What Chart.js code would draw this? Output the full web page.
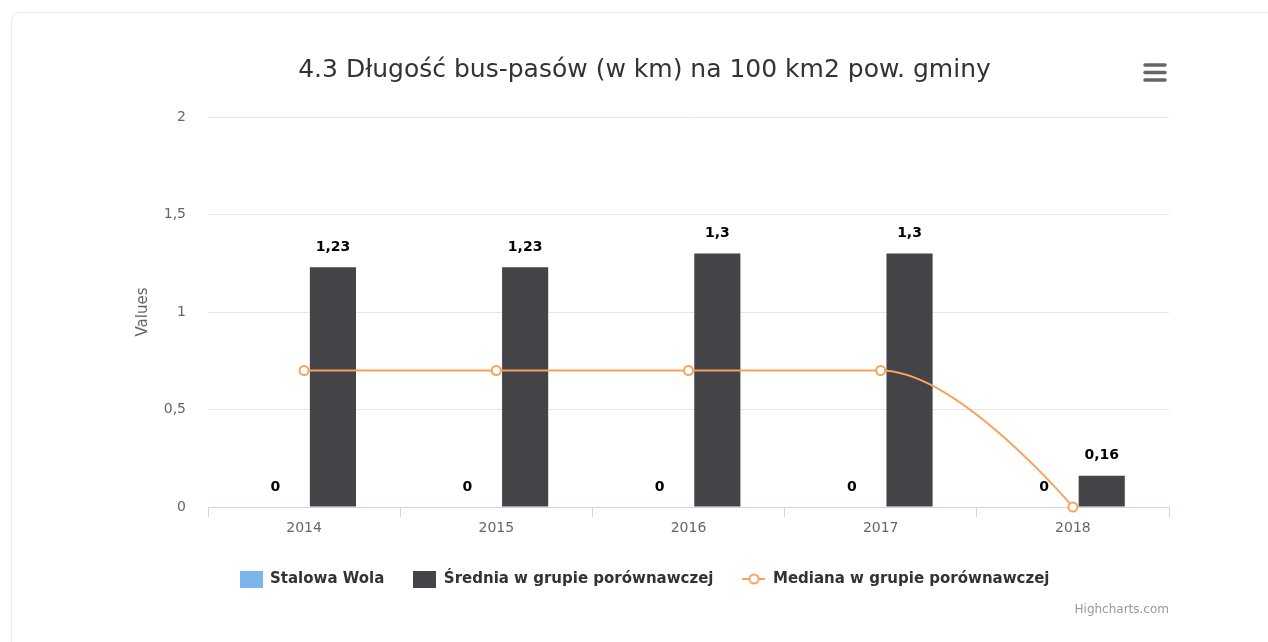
<!DOCTYPE html>
<html><head><meta charset="utf-8">
<script src="https://cdn.jsdelivr.net/npm/chart.js@4"></script>
<style>
html,body{margin:0;padding:0;background:#fff;}
#wrap{position:relative;width:1268px;height:642px;overflow:hidden;}
#card{position:absolute;left:11px;top:12px;width:1300px;height:700px;border:1px solid #ececec;border-radius:9px;box-sizing:border-box;}
canvas{position:absolute;left:0;top:0;}
</style></head><body>
<div id="wrap"><div id="card"></div><canvas id="c" width="1268" height="642"></canvas></div>
<script>
const categories = ['2014', '2015', '2016', '2017', '2018'];
const stalowaWola = [0, 0, 0, 0, 0];
const srednia = [1.23, 1.23, 1.3, 1.3, 0.16];
const mediana = [0.7, 0.7, 0.7, 0.7, 0];
const yTicks = [0, 0.5, 1, 1.5, 2];
const seriesNames = ['Stalowa Wola', 'Średnia w grupie porównawczej', 'Mediana w grupie porównawczej'];
const colors = ['#7cb5ec', '#434348', '#f7a35c'];

const FONT = "'DejaVu Sans', sans-serif";
Chart.defaults.font.family = FONT;
const fmt = v => String(v).replace('.', ',');

function squareSym(color) {
  const c = document.createElement('canvas'); c.width = 23; c.height = 17;
  const x = c.getContext('2d'); x.fillStyle = color; x.fillRect(0, 0, 23, 17); return c;
}
function lineSym(color) {
  const c = document.createElement('canvas'); c.width = 23; c.height = 14;
  const x = c.getContext('2d');
  x.strokeStyle = color; x.lineWidth = 2;
  x.beginPath(); x.moveTo(0, 7); x.lineTo(23, 7); x.stroke();
  x.beginPath(); x.arc(11.5, 7, 4.5, 0, Math.PI * 2); x.fillStyle = '#fff'; x.fill(); x.stroke();
  return c;
}
const legendSyms = [squareSym(colors[0]), squareSym(colors[1]), lineSym(colors[2])];

// Highcharts-style spline control points, computed from the library's own point positions
const hcSpline = {
  id: 'hcSpline',
  beforeDatasetDraw(chart, args) {
    const meta = args.meta;
    if (meta.type !== 'line' || !meta.dataset) return;
    const pts = meta.data;
    const sm = 1.5, den = 2.5;
    pts.forEach((p, i) => {
      const prev = pts[i - 1], next = pts[i + 1];
      let lx = p.x, ly = p.y, rx = p.x, ry = p.y;
      if (prev && next) {
        lx = (sm * p.x + prev.x) / den; ly = (sm * p.y + prev.y) / den;
        rx = (sm * p.x + next.x) / den; ry = (sm * p.y + next.y) / den;
        if (rx !== lx) { const c = ((ry - ly) * (rx - p.x)) / (rx - lx) + p.y - ry; ly += c; ry += c; }
        if (ly > Math.max(prev.y, p.y)) { ly = Math.max(prev.y, p.y); ry = 2 * p.y - ly; }
        else if (ly < Math.min(prev.y, p.y)) { ly = Math.min(prev.y, p.y); ry = 2 * p.y - ly; }
        if (ry > Math.max(next.y, p.y)) { ry = Math.max(next.y, p.y); ly = 2 * p.y - ry; }
        else if (ry < Math.min(next.y, p.y)) { ry = Math.min(next.y, p.y); ly = 2 * p.y - ry; }
      }
      p.cp1x = lx; p.cp1y = ly; p.cp2x = rx; p.cp2y = ry;
    });
    meta.dataset._pointsUpdated = true;
    delete meta.dataset._path;
  }
};

const extras = {
  id: 'extras',
  afterDatasetsDraw(chart) {
    const ctx = chart.ctx;
    ctx.save();
    ctx.font = 'bold 14px ' + FONT;
    ctx.textAlign = 'center'; ctx.textBaseline = 'middle'; ctx.lineJoin = 'round';
    [0, 1].forEach(di => {
      const meta = chart.getDatasetMeta(di);
      meta.data.forEach((el, i) => {
        const txt = fmt(chart.data.datasets[di].data[i]);
        const y = el.y - 20;
        ctx.strokeStyle = '#fff'; ctx.lineWidth = 2; ctx.strokeText(txt, el.x, y);
        ctx.fillStyle = '#000'; ctx.fillText(txt, el.x, y);
      });
    });
    ctx.restore();
  },
  afterDraw(chart) {
    const ctx = chart.ctx;
    ctx.save();
    ctx.strokeStyle = '#666'; ctx.lineWidth = 3.5; ctx.lineCap = 'round';
    [65, 72.5, 80].forEach(y => { ctx.beginPath(); ctx.moveTo(1145, y); ctx.lineTo(1165, y); ctx.stroke(); });
    ctx.font = '12px ' + FONT; ctx.fillStyle = '#999';
    ctx.textAlign = 'right'; ctx.textBaseline = 'middle';
    ctx.fillText('Highcharts.com', 1169, 610);
    ctx.restore();
  }
};

new Chart(document.getElementById('c'), {
  type: 'bar',
  data: {
    labels: categories,
    datasets: [
      { label: seriesNames[0], data: stalowaWola, backgroundColor: colors[0], order: 1,
        categoryPercentage: 0.6, barPercentage: 0.8 },
      { label: seriesNames[1], data: srednia, backgroundColor: colors[1], order: 1,
        categoryPercentage: 0.6, barPercentage: 0.8 },
      { type: 'line', label: seriesNames[2], data: mediana, borderColor: colors[2], borderWidth: 2,
        backgroundColor: '#fff', pointBackgroundColor: '#fff', pointBorderColor: colors[2],
        pointBorderWidth: 2, pointRadius: 4.5, cubicInterpolationMode: 'monotone', clip: false, order: 0 }
    ]
  },
  options: {
    responsive: false,
    animation: false,
    layout: { padding: { left: 120, right: 99, top: 0, bottom: 45.5 } },
    plugins: {
      tooltip: { enabled: false },
      title: { display: true, text: '4.3 Długość bus-pasów (w km) na 100 km2 pow. gminy',
        color: '#333', font: { size: 25, weight: 'normal' }, padding: { top: 55, bottom: 32 } },
      legend: {
        position: 'bottom',
        labels: {
          color: '#333', font: { size: 15, weight: 'bold' }, padding: 29,
          usePointStyle: true, pointStyleWidth: 23, boxHeight: 17,
          generateLabels: chart => chart.data.datasets.map((ds, i) => ({
            text: ds.label, pointStyle: legendSyms[i], fillStyle: colors[i], strokeStyle: colors[i],
            lineWidth: 0, hidden: false, datasetIndex: i, fontColor: '#333'
          }))
        }
      }
    },
    scales: {
      x: {
        grid: { display: true, drawOnChartArea: false, drawTicks: true, tickLength: 10, color: '#ccd6eb', offset: true },
        border: { color: '#ccd6eb' },
        ticks: { color: '#666', font: { size: 14 }, padding: 3 },
        afterFit: s => { s.height = 35.5; }
      },
      y: {
        min: 0, max: 2,
        afterBuildTicks: s => { s.ticks = yTicks.map(v => ({ value: v })); },
        grid: { color: '#e6e6e6', drawTicks: false },
        border: { display: false },
        ticks: { color: '#666', font: { size: 14 }, padding: 22, callback: v => fmt(v) },
        title: { display: true, text: 'Values', color: '#666', font: { size: 15 }, padding: { top: 14, bottom: 0 } },
        afterFit: s => { s.width = 88; }
      }
    }
  },
  plugins: [hcSpline, extras]
});
</script>
</body></html>
